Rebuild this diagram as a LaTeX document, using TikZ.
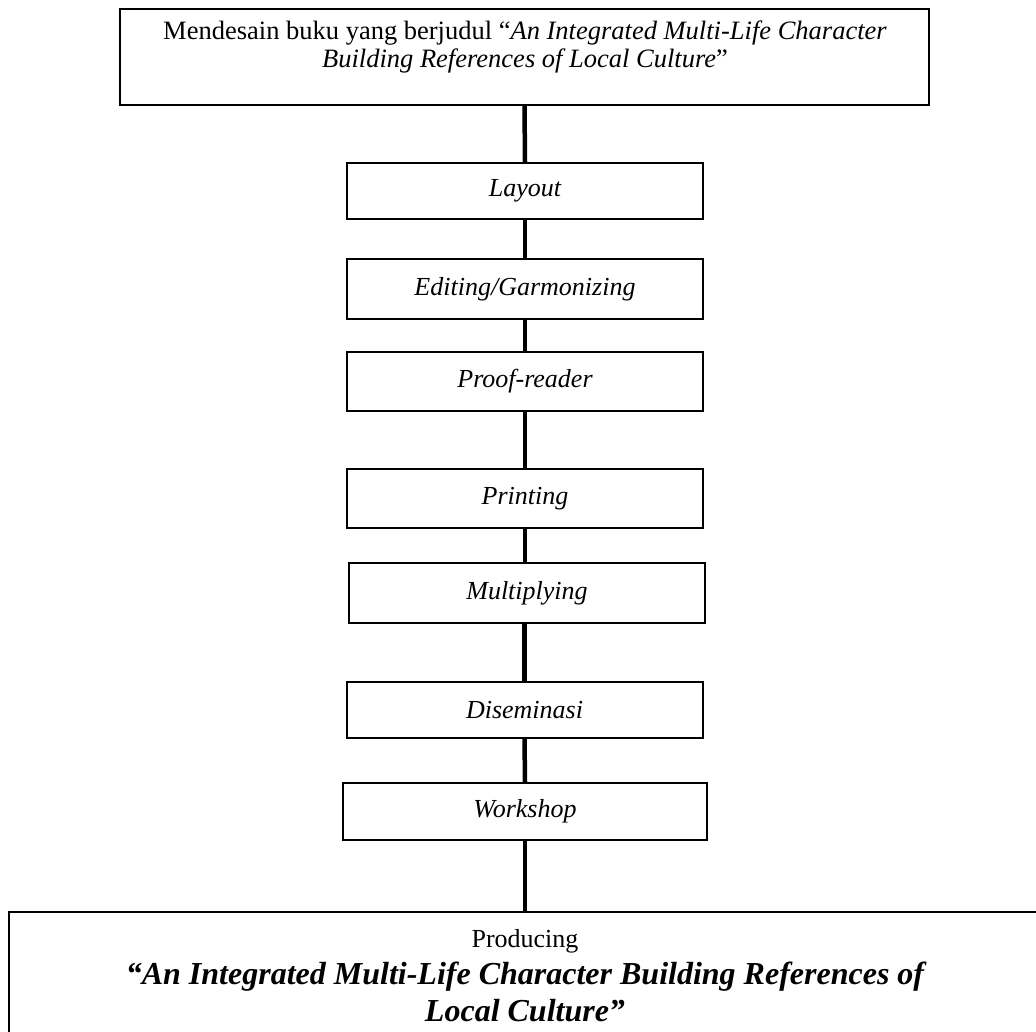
\documentclass[tikz,border=0pt]{standalone}
\usepackage{fontspec}
\setmainfont{Liberation Serif}
\begin{document}
\begin{tikzpicture}[x=1pt,y=-1pt,
  box/.style={draw, line width=2pt, inner sep=0pt, align=center},
  midbox/.style={box, minimum width=356pt, font=\fontsize{26}{30}\selectfont\itshape},
  conn/.style={line width=4.5pt}]
\useasboundingbox (0,0) rectangle (1036,1032);
% top box
\node[box, minimum width=809pt, minimum height=96pt] (top) at (524.5,57) {};
\node[align=center, inner sep=0pt, font=\fontsize{26.5}{28}\selectfont] (toptext) at (525,47)
  {Mendesain buku yang berjudul “\textit{An Integrated Multi-Life Character}\\\textit{Building References of Local Culture}”};
% middle boxes
\node[midbox, minimum height=56pt] (layout) at (525,191) {Layout};
\node[midbox, minimum height=60pt] (edit) at (525,289) {Editing/Garmonizing};
\node[midbox, minimum height=59pt] (proof) at (525,381.5) {Proof-reader};
\node[midbox, minimum height=59pt] (print) at (525,498.5) {Printing};
\node[midbox, minimum height=60pt] (multi) at (527,593) {Multiplying};
\node[midbox, minimum height=56pt] (disem) at (524.5,710) {Diseminasi};
\node[midbox, minimum height=57pt, minimum width=364pt] (work) at (525,811.5) {Workshop};
% bottom box
\node[box, minimum width=1032pt, minimum height=150pt] (bottom) at (525,987) {};
\node[align=center, inner sep=0pt, font=\fontsize{32}{37}\selectfont\bfseries\itshape] (bottext) at (525,976)
  {{\fontsize{26}{30}\selectfont\mdseries\upshape Producing}\\
   “An Integrated Multi-Life Character Building References of\\
   Local Culture”};
% connectors
\draw[conn] (top.south) -- (layout.north);
\draw[conn] (layout.south) -- (edit.north);
\draw[conn] (edit.south) -- (proof.north);
\draw[conn] (proof.south) -- (print.north);
\draw[conn] (print.south) -- (print.south |- multi.north);
\draw[conn] (disem.north |- multi.south) -- (disem.north);
\draw[conn] (disem.south) -- (work.north);
\draw[conn] (work.south) -- (work.south |- bottom.north);
\end{tikzpicture}
\end{document}
